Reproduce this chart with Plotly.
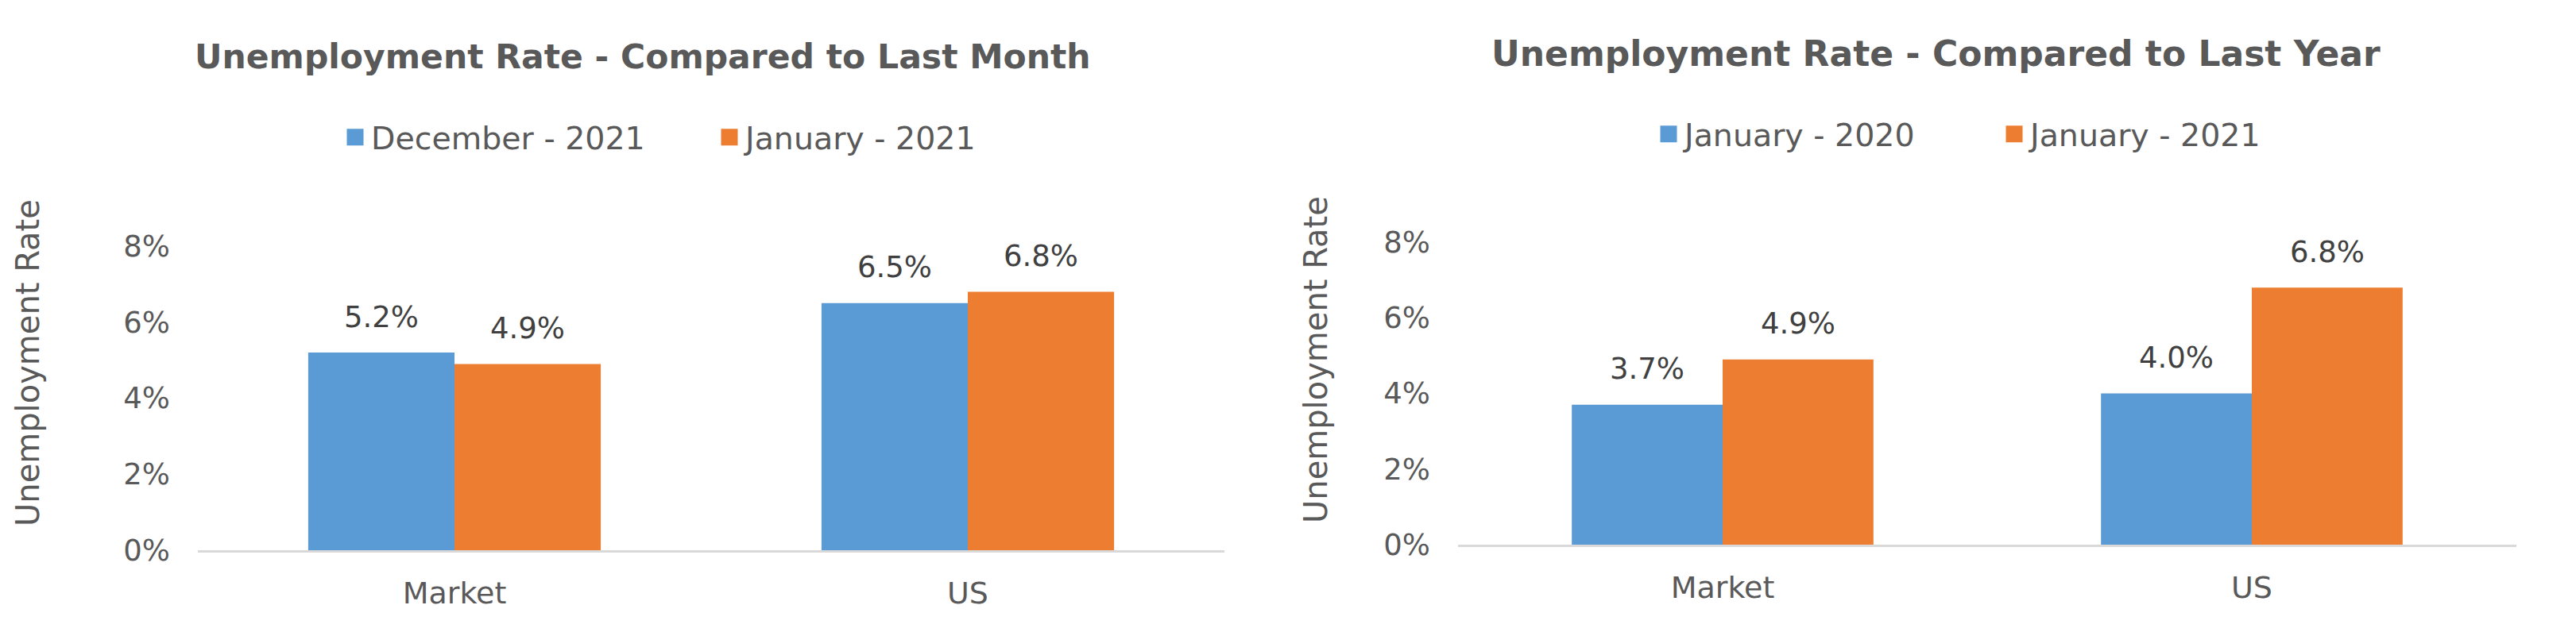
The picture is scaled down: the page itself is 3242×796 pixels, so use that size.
import plotly.graph_objects as go

categories = ["Market", "US"]

left_title = "Unemployment Rate - Compared to Last Month"
left_series_names = ["December - 2021", "January - 2021"]
left_series_a = [5.2, 6.5]
left_series_b = [4.9, 6.8]

right_title = "Unemployment Rate - Compared to Last Year"
right_series_names = ["January - 2020", "January - 2021"]
right_series_a = [3.7, 4.0]
right_series_b = [4.9, 6.8]

y_ticks = [0, 2, 4, 6, 8]
y_tick_labels = ["0%", "2%", "4%", "6%", "8%"]
y_axis_title = "Unemployment Rate"

BLUE = "#5B9BD5"
ORANGE = "#ED7D31"
TXT = "#595959"
LBL = "#404040"
FONT = "DejaVu Sans"
W, H = 3242, 796
BARGAP = 0.43

fig = go.Figure()

panels = [
    dict(xa="x", ya="y", names=left_series_names, vals=[left_series_a, left_series_b], legend="legend"),
    dict(xa="x2", ya="y2", names=right_series_names, vals=[right_series_a, right_series_b], legend="legend2"),
]
colors = [BLUE, ORANGE]

for p in panels:
    for j, (name, vals) in enumerate(zip(p["names"], p["vals"])):
        fig.add_trace(go.Bar(
            x=categories, y=vals, name=name, marker=dict(color=colors[j], line=dict(width=0)),
            xaxis=p["xa"], yaxis=p["ya"], showlegend=False, hoverinfo="skip",
        ))
    for j, name in enumerate(p["names"]):
        fig.add_trace(go.Scatter(
            x=[None], y=[None], mode="markers", name=name,
            marker=dict(symbol="square", size=16, color=colors[j], line=dict(color=colors[j], width=5)),
            xaxis=p["xa"], yaxis=p["ya"], legend=p["legend"], showlegend=True,
        ))

# data labels placed through the axes' own scales
annotations = []
half = (1 - BARGAP) / 4
for p in panels:
    for j, vals in enumerate(p["vals"]):
        for i, v in enumerate(vals):
            annotations.append(dict(
                x=i + (-half if j == 0 else half), y=v, xref=p["xa"], yref=p["ya"],
                text=f"{v:.1f}%", showarrow=False, yshift=45,
                font=dict(family=FONT, size=37, color=LBL),
                xanchor="center", yanchor="middle",
            ))

# titles
annotations.append(dict(text=f"<b>{left_title}</b>", x=809 / W, y=1 - 72 / H, xref="paper", yref="paper",
                        showarrow=False, xanchor="center", yanchor="middle",
                        font=dict(family=FONT, size=42.5, color=TXT)))
annotations.append(dict(text=f"<b>{right_title}</b>", x=2436 / W, y=1 - 67 / H, xref="paper", yref="paper",
                        showarrow=False, xanchor="center", yanchor="middle",
                        font=dict(family=FONT, size=44, color=TXT)))
# y-axis titles
annotations.append(dict(text=y_axis_title, x=35 / W, y=1 - 457 / H, xref="paper", yref="paper",
                        showarrow=False, textangle=-90, xanchor="center", yanchor="middle",
                        font=dict(family=FONT, size=40, color=TXT)))
annotations.append(dict(text=y_axis_title, x=1656 / W, y=1 - 453 / H, xref="paper", yref="paper",
                        showarrow=False, textangle=-90, xanchor="center", yanchor="middle",
                        font=dict(family=FONT, size=40, color=TXT)))

xaxis_common = dict(type="category", showline=True, linecolor="#D9D9D9", linewidth=3,
                    showgrid=False, zeroline=False, ticks="", ticklabelstandoff=18, automargin=False,
                    tickfont=dict(family=FONT, size=38, color=TXT), fixedrange=True)
yaxis_common = dict(range=[0, 8], tickvals=y_ticks, ticktext=y_tick_labels, showgrid=False,
                    zeroline=False, showline=False, ticks="", ticklabelstandoff=34, automargin=False,
                    tickfont=dict(family=FONT, size=37, color=TXT), fixedrange=True)

legend_common = dict(orientation="h", font=dict(family=FONT, size=39.5, color=TXT),
                     bgcolor="rgba(0,0,0,0)", xanchor="left", yanchor="middle",
                     entrywidthmode="pixels", itemclick=False, itemdoubleclick=False)

fig.update_layout(
    width=W, height=H, margin=dict(l=0, r=0, t=0, b=0, autoexpand=False),
    paper_bgcolor="white", plot_bgcolor="white",
    barmode="group", bargap=BARGAP, bargroupgap=0,
    xaxis=dict(domain=[249 / W, 1541 / W], anchor="y", **xaxis_common),
    yaxis=dict(domain=[1 - 693 / H, 1 - 310 / H], anchor="x", **yaxis_common),
    xaxis2=dict(domain=[1835 / W, 3167 / W], anchor="y2", **xaxis_common),
    yaxis2=dict(domain=[1 - 686 / H, 1 - 305 / H], anchor="x2", **yaxis_common),
    legend=dict(x=427 / W, y=1 - 173 / H, entrywidth=426, **legend_common),
    legend2=dict(x=2080 / W, y=1 - 169 / H, entrywidth=390, **legend_common),
    annotations=annotations,
    showlegend=True,
)

fig.write_html("out.html", config={"displayModeBar": False},
               post_script="document.body.style.margin='0';")
